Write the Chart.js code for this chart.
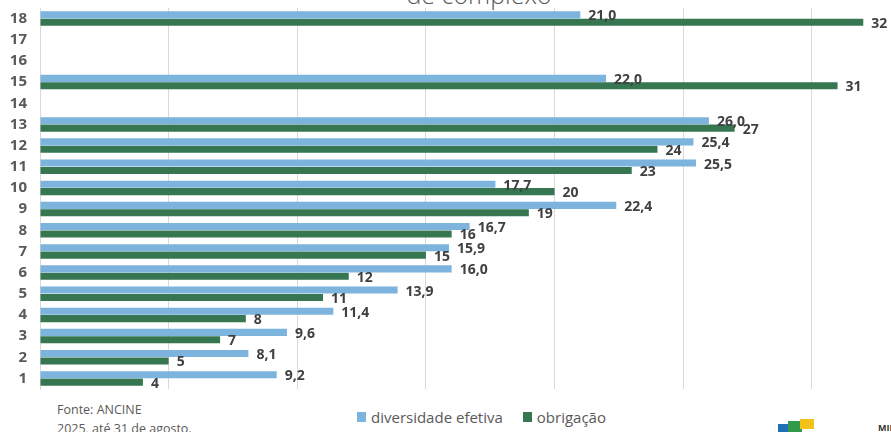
<!DOCTYPE html>
<html lang="pt-BR">
<head>
  <meta charset="UTF-8" />
  <title>Diversidade efetiva x obrigação</title>
  <script src="https://cdn.jsdelivr.net/npm/chart.js"></script>
  <style>
    body {
      margin: 0;
      width: 891px;
      height: 432px;
      overflow: hidden;
      background: #fff;
      font-family: "Open Sans", Arial, sans-serif;
      position: relative;
    }

    #titulo {
      position: absolute;
      top: -18px;
      left: 0;
      width: 958px;
      text-align: center;
      font-size: 25px;
      line-height: 25px;
      font-weight: 300;
      color: #595959;
    }

    #grafico {
      position: absolute;
      top: 0;
      left: 0;
    }

    #fonte {
      position: absolute;
      left: 57px;
      top: 400px;
      font-size: 12.5px;
      line-height: 19px;
      color: #595959;
    }

    #legenda {
      position: absolute;
      top: 407px;
      left: 357px;
      font-size: 15px;
      color: #595959;
      display: flex;
      gap: 20px;
    }

    #legenda span {
      display: flex;
      align-items: center;
    }

    #legenda i {
      display: inline-block;
      width: 9px;
      height: 10px;
      margin-right: 5px;
    }

    #logo {
      position: absolute;
      left: 778px;
      top: 419px;
      width: 36px;
      height: 14px;
    }
    #logo b { position: absolute; display: block; }
    #logo span {
      position: absolute;
      left: 100px;
      top: 2px;
      font-size: 9px;
      font-weight: bold;
      color: #333;
      white-space: nowrap;
    }
  </style>
</head>
<body>
  <div id="titulo">de complexo</div>
  <canvas id="grafico" width="891" height="391"></canvas>
  <div id="fonte">Fonte: ANCINE<br>2025, até 31 de agosto.</div>
  <div id="legenda">
    <span><i style="background:#7db4dd"></i>diversidade efetiva</span>
    <span><i style="background:#367650"></i>obrigação</span>
  </div>
  <div id="logo">
    <b style="left:0;top:5px;width:12px;height:9px;background:#1f6fb5"></b>
    <b style="left:10px;top:2px;width:14px;height:12px;background:#2e9a4a"></b>
    <b style="left:22px;top:0;width:14px;height:10px;background:#f2c21b"></b>
    <span>MINISTÉRIO DA CULTURA</span>
  </div>

  <script>
    const categorias = ['1', '2', '3', '4', '5', '6', '7', '8', '9', '10', '11', '12', '13', '14', '15', '16', '17', '18'];
    const diversidade = [9.2, 8.1, 9.6, 11.4, 13.9, 16.0, 15.9, 16.7, 22.4, 17.7, 25.5, 25.4, 26.0, null, 22.0, null, null, 21.0];
    const obrigacao = [4, 5, 7, 8, 11, 12, 15, 16, 19, 20, 23, 24, 27, null, 31, null, null, 32];

    const corAzul = '#7db4dd';
    const corVerde = '#367650';

    // rotulos de valor ao lado das barras
    const rotulos = {
      id: 'rotulos',
      afterDatasetsDraw(chart) {
        const ctx = chart.ctx;
        ctx.save();
        ctx.font = 'bold 14px "Open Sans", Arial, sans-serif';
        ctx.fillStyle = '#404040';
        ctx.textBaseline = 'middle';
        ctx.textAlign = 'left';
        chart.data.datasets.forEach((ds, i) => {
          const meta = chart.getDatasetMeta(i);
          meta.data.forEach((bar, j) => {
            const v = ds.data[j];
            if (v === null) return;
            const txt = i === 0 ? v.toFixed(1).replace('.', ',') : String(v);
            ctx.fillText(txt, bar.x + 8, bar.y + 1.5);
          });
        });
        ctx.restore();
      }
    };

    new Chart(document.getElementById('grafico'), {
      type: 'bar',
      data: {
        labels: categorias,
        datasets: [
          { label: 'diversidade efetiva', data: diversidade, backgroundColor: corAzul },
          { label: 'obrigação', data: obrigacao, backgroundColor: corVerde }
        ]
      },
      options: {
        indexAxis: 'y',
        responsive: false,
        animation: false,
        layout: { padding: { top: 8, right: 2, bottom: 0, left: 0 } },
        categoryPercentage: 0.7,
        barPercentage: 0.95,
        scales: {
          x: {
            min: 0,
            max: 33,
            afterFit(scale) {
              scale.height = 2;
              scale.paddingLeft = 0;
              scale.paddingRight = 0;
            },
            ticks: { stepSize: 5, includeBounds: false, display: false },
            grid: { color: '#d9d9d9', drawTicks: false },
            border: { display: false }
          },
          y: {
            reverse: true,
            afterFit(scale) {
              scale.width = 40;
              scale.paddingTop = 0;
              scale.paddingBottom = 0;
            },
            grid: { display: false, drawTicks: false },
            border: { display: true, color: '#d9d9d9' },
            ticks: {
              padding: 13,
              color: '#595959',
              font: { family: '"Open Sans", Arial, sans-serif', size: 15, weight: 'bold' }
            }
          }
        },
        plugins: {
          legend: { display: false },
          tooltip: { enabled: false }
        }
      },
      plugins: [rotulos]
    });
  </script>
</body>
</html>
